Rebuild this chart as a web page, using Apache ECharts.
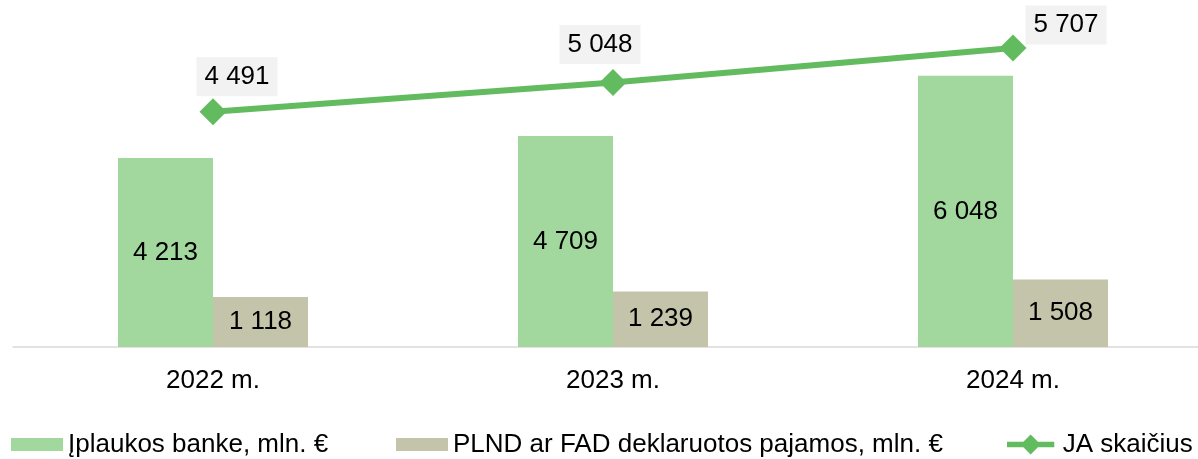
<!DOCTYPE html>
<html lang="lt">
<head>
    <meta charset="UTF-8">
    <title>Įplaukos ir JA skaičius</title>
    <script src="https://cdn.jsdelivr.net/npm/echarts@6/dist/echarts.min.js"></script>
    <style>
        html, body { margin: 0; padding: 0; background: #fff; overflow: hidden; }
        /* a bit wider than the window: the last category runs off the right edge */
        #chart { width: 1213px; height: 459px; }
    </style>
</head>
<body>
<div id="chart"></div>
<script>
    // data
    var years = ['2022 m.', '2023 m.', '2024 m.']
    var inflows = [4213, 4709, 6048]
    var declared = [1118, 1239, 1508]
    var entities = [4491, 5048, 5707]

    var seriesNames = ['Įplaukos banke, mln. €', 'PLND ar FAD deklaruotos pajamos, mln. €', 'JA skaičius']

    // per-point nudges for the line labels
    var lineLabelOffsets = [[24, -2], [-13, -5], [53, 10]]

    function fmt(v) {
        return String(v).replace(/\B(?=(\d{3})+(?!\d))/g, ' ')
    }

    var font = '"Liberation Sans", Arial, sans-serif'
    var chart = echarts.init(document.getElementById('chart'))

    var legendBase = {
        top: 431,
        padding: 0,
        itemWidth: 52,
        itemHeight: 13,
        itemGap: 5,
        icon: 'rect',
        textStyle: { fontFamily: font, fontSize: 26, color: '#000', lineHeight: 27 }
    }

    // line + diamond legend glyph
    var lineIcon = 'path://M0,6 L18,6 L26,-2 L34,6 L52,6 L52,12 L34,12 L26,20 L18,12 L0,12 Z'

    chart.setOption({
        animation: false,
        textStyle: { fontFamily: font },
        grid: { left: 13, right: 0, top: 0, bottom: 112, containLabel: false },
        legend: [
            Object.assign({}, legendBase, { left: 11, data: [seriesNames[0]] }),
            Object.assign({}, legendBase, { left: 396, data: [seriesNames[1]] }),
            Object.assign({}, legendBase, {
                left: 1007, itemWidth: 54, itemHeight: 20, icon: lineIcon,
                data: [seriesNames[2]]
            })
        ],
        xAxis: {
            type: 'category',
            data: years,
            axisTick: { show: false },
            axisLine: { lineStyle: { color: '#d9d9d9', width: 1.5 } },
            axisLabel: { color: '#000', fontSize: 26, margin: 21, fontFamily: font }
        },
        yAxis: [
            { type: 'value', min: 0, max: 7740, show: false, splitLine: { show: false } },
            { type: 'value', min: 0, max: 6625, show: false, splitLine: { show: false } }
        ],
        series: [
            {
                name: seriesNames[0],
                type: 'bar',
                data: inflows,
                barWidth: 95,
                barGap: '0%',
                itemStyle: { color: '#a2d89e' },
                label: {
                    show: true, position: 'inside', color: '#000', fontSize: 26, fontFamily: font,
                    formatter: function (p) { return fmt(p.value) }
                }
            },
            {
                name: seriesNames[1],
                type: 'bar',
                data: declared,
                barWidth: 95,
                barGap: '0%',
                itemStyle: { color: '#c4c4aa' },
                label: {
                    show: true, position: 'inside', color: '#000', fontSize: 26, fontFamily: font,
                    formatter: function (p) { return fmt(p.value) }
                }
            },
            {
                name: seriesNames[2],
                type: 'line',
                yAxisIndex: 1,
                data: entities.map(function (v, i) {
                    return { value: v, label: { offset: lineLabelOffsets[i] } }
                }),
                symbol: 'diamond',
                symbolSize: 27,
                lineStyle: { color: '#63bb60', width: 6 },
                itemStyle: { color: '#63bb60' },
                label: {
                    show: true, position: 'top', distance: 0,
                    color: '#000', fontSize: 26, fontFamily: font, lineHeight: 27,
                    backgroundColor: '#f2f2f2', padding: [6, 8],
                    formatter: function (p) { return fmt(p.value) }
                },
                z: 5
            }
        ]
    })
</script>
</body>
</html>
